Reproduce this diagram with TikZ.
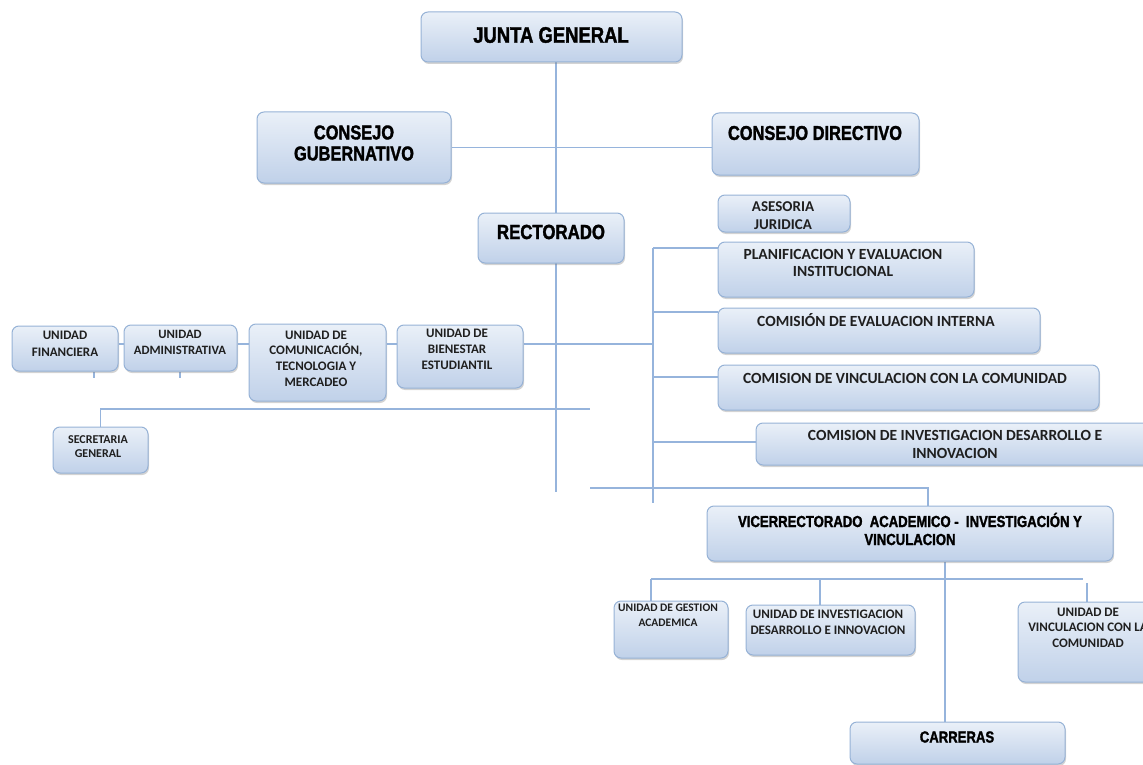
\documentclass[tikz,border=0pt]{standalone}
\usepackage{fontspec}
\usetikzlibrary{shadows,fit}
\newfontfamily\cfont{Carlito}
\newfontfamily\hfont{Liberation Sans Bold}[FakeStretch=0.82, FakeBold=1.6]
\definecolor{lc}{RGB}{150,180,220}
\definecolor{bd}{RGB}{150,178,214}
\definecolor{ftop}{RGB}{234,240,248}
\definecolor{fbot}{RGB}{192,209,233}
\pgfdeclarelayer{bg}
\pgfsetlayers{bg,main}
\tikzset{
  box/.style={draw=bd, line width=1pt, rounded corners=7pt, top color=ftop, bottom color=fbot,
    drop shadow={shadow xshift=1pt, shadow yshift=-2pt, opacity=0.35}, inner sep=0pt},
  conn/.style={draw=lc, line width=1.5pt},
  ht/.style 2 args={font={\hfont\fontsize{#1}{#2}\selectfont}, align=center, inner sep=0pt, text=black},
  bt/.style 2 args={font={\cfont\bfseries\fontsize{#1}{#2}\selectfont}, align=center, inner sep=0pt, text=black!88},
}
\newcommand\mybox[5]{\node[box, fit={(#2,#3) (#4,#5)}] (#1) {};}
\begin{document}
\begin{tikzpicture}[x=1pt,y=-1pt]
\useasboundingbox (0,0) rectangle (1143,765);
\clip (0,0) rectangle (1143,765);
% boxes
\mybox{jg}{421}{12}{682}{62}
\mybox{cg}{257}{112}{451}{183}
\mybox{cd}{712}{113}{919}{175}
\mybox{rec}{478}{213}{624}{263}
\mybox{ase}{718}{195}{850}{232}
\mybox{plan}{718}{242}{974}{297}
\mybox{cei}{718}{308}{1040}{353}
\mybox{cvc}{718}{365}{1099}{410}
\mybox{cid}{756}{423}{1154}{465}
\mybox{vic}{707}{506}{1113}{561}
\mybox{uga}{614}{601}{728}{658}
\mybox{uid}{746}{605}{915}{655}
\mybox{uvc}{1018}{602}{1158}{682}
\mybox{car}{850}{722}{1065}{764}
\mybox{ufi}{12}{326}{118}{371}
\mybox{uad}{124}{325}{237}{371}
\mybox{ucom}{249}{324}{386}{401}
\mybox{ube}{397}{325}{523}{388}
\mybox{sec}{53}{427}{148}{473}
% texts
\node[ht={22.5}{25}] (tjg) at (551,35) {JUNTA GENERAL};
\node[ht={20}{21}] (tcg) at (354,143) {CONSEJO\\GUBERNATIVO};
\node[ht={20}{21}] (tcd) at (815,133) {CONSEJO DIRECTIVO};
\node[ht={20.5}{21}] (trec) at (551,232) {RECTORADO};
\node[bt={15}{18}] (tase) at (783,216) {ASESORIA\\JURIDICA};
\node[bt={15.5}{17}] (tplan) at (843,262.5) {PLANIFICACION Y EVALUACION\\INSTITUCIONAL};
\node[bt={15.5}{17}] (tcei) at (876,320) {COMISIÓN DE EVALUACION INTERNA};
\node[bt={15.5}{17}] (tcvc) at (905,378) {COMISION DE VINCULACION CON LA COMUNIDAD};
\node[bt={15.5}{18}] (tcid) at (955,444) {COMISION DE INVESTIGACION DESARROLLO E\\INNOVACION};
\node[ht={16}{18}] (tvic) at (910,529) {VICERRECTORADO\ \ ACADEMICO -\ \ INVESTIGACIÓN Y\\VINCULACION};
\node[bt={11.5}{15}] (tuga) at (668,615.5) {UNIDAD DE GESTION\\ACADEMICA};
\node[bt={13}{16}] (tuid) at (828,622) {UNIDAD DE INVESTIGACION\\DESARROLLO E INNOVACION};
\node[bt={13}{15.5}] (tuvc) at (1088,627.5) {UNIDAD DE\\VINCULACION CON LA\\COMUNIDAD};
\node[ht={16}{18}] (tcar) at (957,737) {CARRERAS};
\node[bt={13}{17}] (tufi) at (65,343.5) {UNIDAD\\FINANCIERA};
\node[bt={12.7}{16}] (tuad) at (180,342) {UNIDAD\\ADMINISTRATIVA};
\node[bt={13}{15.7}] (tucom) at (316,358.5) {UNIDAD DE\\COMUNICACIÓN,\\TECNOLOGIA Y\\MERCADEO};
\node[bt={13}{16}] (tube) at (457,349) {UNIDAD DE\\BIENESTAR\\ESTUDIANTIL};
\node[bt={12}{14}] (tsec) at (98,447) {SECRETARIA\\GENERAL};
% coordinates
\coordinate (mx) at (556,0);
\coordinate (mEnd) at (556,492);
\coordinate (yL) at (0,344);
\coordinate (busT) at (653,248);
\coordinate (busB) at (653,503);
\coordinate (bus1) at (653,344);
\coordinate (bus2) at (653,312);
\coordinate (bus3) at (653,377);
\coordinate (bus4) at (653,442);
\coordinate (dblL) at (693,442);
\coordinate (dblR) at (721,442);
\coordinate (s1) at (94,378);
\coordinate (s2) at (180,378);
\coordinate (secR) at (590,409);
\coordinate (botL) at (590,488);
\coordinate (vx) at (928,0);
\coordinate (cx) at (945,0);
\coordinate (lbL) at (651,579);
\coordinate (lbR) at (1083,579);
\coordinate (lbM) at (820,579);
\coordinate (lbS) at (1087,583);
\begin{pgfonlayer}{bg}
\draw[conn] (jg.south -| mx) -- (mEnd);
\draw[conn] (cg.east) -- (cg.east -| cd.west);
\draw[conn] (ufi.east |- yL) -- (uad.west |- yL);
\draw[conn] (uad.east |- yL) -- (ucom.west |- yL);
\draw[conn] (ucom.east |- yL) -- (ube.west |- yL);
\draw[conn] (ube.east |- yL) -- (bus1);
\draw[conn] (s1 |- ufi.south) -- (s1);
\draw[conn] (s2 |- uad.south) -- (s2);
\draw[conn] (busT) -- (busB);
\draw[conn] (busT) -- (busT -| plan.west);
\draw[conn] (bus2) -- (bus2 -| cei.west);
\draw[conn] (bus3) -- (bus3 -| cvc.west);
\draw[conn] (bus4) -- (bus4 -| cid.west);
\draw[conn, line width=2.6pt] (dblL) -- (dblR);
\draw[conn] (sec.north) |- (secR);
\draw[conn] (botL) -| (vic.north -| vx);
\draw[conn] (vic.south -| cx) -- (car.north -| cx);
\draw[conn] (lbL) -- (lbR);
\draw[conn] (lbL) -- (uga.north -| lbL);
\draw[conn] (lbM) -- (uid.north -| lbM);
\draw[conn] (lbS) -- (uvc.north -| lbS);
\end{pgfonlayer}
\end{tikzpicture}
\end{document}
